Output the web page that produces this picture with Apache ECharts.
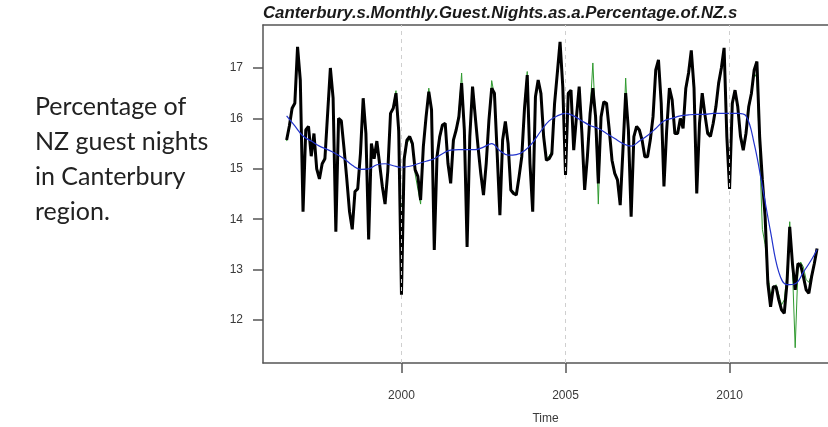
<!DOCTYPE html>
<html>
<head>
<meta charset="utf-8">
<script src="https://cdn.jsdelivr.net/npm/echarts@6/dist/echarts.min.js"></script>
<style>
  html, body { margin: 0; padding: 0; background: #ffffff; }
  #chart { width: 828px; height: 427px; }
</style>
</head>
<body>
<div id="chart"></div>
<script>
// Monthly series start at July 1996 (decimal year 1996.5)
const seriesStart = 1996.5;

// Canterbury share of NZ guest nights (%), monthly, Jul 1996 - Sep 2012
const observed = [
  15.57, 15.85, 16.2, 16.3, 17.42, 16.76,
  14.15, 15.77, 15.84, 15.25, 15.7, 15.0, 14.8, 15.1, 15.2, 16.1, 17.0, 16.4,
  13.75, 16.0, 15.95, 15.4, 14.8, 14.15, 13.8, 14.55, 14.6, 15.3, 16.4, 15.7,
  13.6, 15.5, 15.2, 15.55, 15.1, 14.65, 14.3, 14.95, 16.1, 16.2, 16.5, 15.75,
  12.5, 15.2, 15.57, 15.64, 15.5, 14.98, 14.85, 14.38, 15.44, 16.03, 16.53, 16.17,
  13.39, 15.24, 15.64, 15.87, 15.9, 15.11, 14.71, 15.57, 15.77, 16.03, 16.7, 15.77,
  13.45, 15.64, 16.63, 16.03, 15.44, 14.91, 14.48, 15.11, 15.97, 16.6, 16.5, 15.31,
  14.08, 15.57, 15.94, 15.5, 14.58, 14.51, 14.48, 14.84, 15.24, 16.2, 16.86, 15.11,
  14.15, 16.43, 16.76, 16.5, 15.64, 15.17, 15.2, 15.3, 16.3, 16.9, 17.52, 16.63,
  14.88, 16.5, 16.56, 15.37, 16.03, 16.63, 15.7, 14.58, 15.24, 16.1, 16.6, 16.03,
  14.71, 16.03, 16.33, 16.3, 15.77, 15.17, 14.91, 14.78, 14.28, 15.37, 16.5, 15.77,
  14.05, 15.64, 15.84, 15.77, 15.57, 15.24, 15.24, 15.57, 16.03, 16.96, 17.16, 16.3,
  14.65, 15.77, 16.6, 16.37, 15.7, 15.7, 16.0, 15.8, 16.6, 16.9, 17.35, 16.6,
  14.51, 15.9, 16.5, 16.07, 15.7, 15.64, 15.9, 16.23, 16.7, 17.0, 17.4, 15.64,
  14.6, 16.3, 16.56, 16.23, 15.64, 15.37, 15.7, 16.23, 16.5, 16.96, 17.13, 15.64,
  14.78, 14.05, 12.73, 12.26, 12.66, 12.66, 12.4, 12.2, 12.13, 12.73, 13.85, 13.12,
  12.6, 13.12, 13.09, 12.86, 12.6, 12.53, 12.86, 13.12, 13.42
];

// Companion monthly series (thin green line), same months
const companion = [
  15.55, 15.8, 16.15, 16.3, 17.3, 16.8,
  14.3, 15.75, 15.8, 15.3, 15.65, 15.05, 14.85, 15.1, 15.25, 16.05, 16.95, 16.45,
  13.9, 15.95, 15.9, 15.4, 14.85, 14.2, 13.9, 14.5, 14.65, 15.3, 16.35, 15.75,
  13.75, 15.45, 15.25, 15.5, 15.1, 14.7, 14.35, 14.9, 16.05, 16.25, 16.55, 15.6,
  14.0, 15.1, 15.5, 15.6, 15.45, 14.9, 14.6, 14.3, 15.4, 16.0, 16.6, 16.1,
  13.5, 15.2, 15.6, 15.85, 15.85, 15.15, 14.75, 15.5, 15.8, 16.1, 16.9, 15.7,
  13.6, 15.6, 16.55, 16.05, 15.45, 14.95, 14.5, 15.15, 16.0, 16.75, 16.45, 15.35,
  14.2, 15.5, 15.9, 15.5, 14.6, 14.55, 14.5, 14.8, 15.3, 16.3, 16.93, 15.2,
  14.3, 16.35, 16.7, 16.45, 15.7, 15.2, 15.25, 15.35, 16.25, 16.85, 17.4, 16.6,
  15.0, 16.45, 16.5, 15.45, 16.0, 16.55, 15.75, 14.65, 15.3, 16.15, 17.1, 15.95,
  14.3, 16.0, 16.3, 16.25, 15.8, 15.2, 14.95, 14.8, 14.35, 15.4, 16.8, 15.7,
  14.2, 15.6, 15.8, 15.75, 15.6, 15.3, 15.25, 15.6, 16.05, 16.9, 17.1, 16.25,
  14.8, 15.75, 16.55, 16.3, 15.7, 15.75, 16.0, 15.85, 16.55, 16.85, 17.25, 16.5,
  14.7, 15.85, 16.45, 16.05, 15.75, 15.7, 15.9, 16.2, 16.65, 16.95, 17.3, 15.7,
  14.75, 16.25, 16.5, 16.2, 15.7, 15.45, 15.75, 16.2, 16.45, 16.9, 16.8, 15.3,
  13.8, 13.5, 12.9, 12.5, 12.6, 12.7, 12.5, 12.3, 12.4, 12.9, 13.95, 13.0,
  11.45, 13.0, 13.15, 13.05, 12.8, 12.75, 12.9, 13.15, 13.4
];

// Smoothed trend (blue), sampled quarterly
const trendTimes = [
  1996.5, 1996.75, 1997.0, 1997.25, 1997.5, 1997.75, 1998.0, 1998.25, 1998.5, 1998.75,
  1999.0, 1999.25, 1999.5, 1999.75, 2000.0, 2000.25, 2000.5, 2000.75, 2001.0, 2001.25,
  2001.5, 2001.75, 2002.0, 2002.25, 2002.5, 2002.75, 2003.0, 2003.25, 2003.5, 2003.75,
  2004.0, 2004.25, 2004.5, 2004.75, 2005.0, 2005.25, 2005.5, 2005.75, 2006.0, 2006.25,
  2006.5, 2006.75, 2007.0, 2007.25, 2007.5, 2007.75, 2008.0, 2008.25, 2008.5, 2008.75,
  2009.0, 2009.25, 2009.5, 2009.75, 2010.0, 2010.25, 2010.5, 2010.75, 2011.0, 2011.25,
  2011.5, 2011.75, 2012.0, 2012.25, 2012.5, 2012.667
];
const trendValues = [
  16.05, 15.85, 15.65, 15.55, 15.45, 15.38, 15.3, 15.2, 15.07, 14.99,
  15.0, 15.08, 15.1, 15.06, 15.03, 15.05, 15.1, 15.15, 15.2, 15.3,
  15.37, 15.38, 15.38, 15.38, 15.43, 15.5, 15.36, 15.27, 15.28, 15.36,
  15.52, 15.75, 15.95, 16.05, 16.1, 16.05, 15.95, 15.86, 15.8, 15.7,
  15.6, 15.5, 15.45, 15.55, 15.66, 15.8, 15.95, 16.0, 16.05, 16.07,
  16.08, 16.08, 16.1, 16.1, 16.1, 16.1, 16.05, 15.5, 14.65, 13.75,
  12.95, 12.7, 12.72, 12.95, 13.2, 13.4
];

// Axis ticks
const xTicks = [2000, 2005, 2010];
const yTicks = [12, 13, 14, 15, 16, 17];

const chartTitle = 'Canterbury.s.Monthly.Guest.Nights.as.a.Percentage.of.NZ.s';
const caption = 'Percentage of\nNZ guest nights\nin Canterbury\nregion.';

const monthly = arr => arr.map((v, i) => [seriesStart + i / 12, v]);
const trendData = trendTimes.map((t, i) => [t, trendValues[i]]);

const chart = echarts.init(document.getElementById('chart'), null, { renderer: 'canvas' });

const axisText = { color: '#3a3a3a', fontFamily: 'Liberation Sans, Arial, sans-serif', fontSize: 12 };
const frame = { color: '#555555', width: 1.5 };

chart.setOption({
  backgroundColor: '#ffffff',
  animation: false,
  title: [
    {
      text: chartTitle,
      left: 258, top: 0,
      textStyle: { fontFamily: 'Liberation Sans, Arial, sans-serif', fontSize: 16.8, fontWeight: 'bold', fontStyle: 'italic', color: '#1a1a1a' }
    },
    {
      text: caption,
      left: 30, top: 84,
      textStyle: { fontFamily: 'Lato, sans-serif', fontSize: 25, fontWeight: 'normal', color: '#222222', lineHeight: 35 }
    }
  ],
  grid: { left: 263, top: 25, right: 0, height: 338, outerBoundsMode: 'none', containLabel: false },
  xAxis: [
    {
      type: 'value', position: 'bottom',
      min: 1995.78, max: 2013.0,
      name: 'Time', nameLocation: 'middle', nameGap: 50,
      nameTextStyle: { ...axisText },
      axisLine: { show: true, onZero: false, lineStyle: frame },
      axisTick: { show: true, customValues: xTicks, length: 10, lineStyle: frame },
      axisLabel: { show: true, customValues: xTicks, margin: 27, formatter: v => String(v), ...axisText },
      splitLine: { show: false }
    },
    {
      type: 'value', position: 'top',
      min: 1995.78, max: 2013.0,
      axisLine: { show: true, onZero: false, lineStyle: frame },
      axisTick: { show: false }, axisLabel: { show: false }, splitLine: { show: false }
    }
  ],
  yAxis: {
    type: 'value',
    min: 11.147, max: 17.853,
    axisLine: { show: true, onZero: false, lineStyle: frame },
    axisTick: { show: true, customValues: yTicks, length: 10, lineStyle: frame },
    axisLabel: { show: true, customValues: yTicks, margin: 20, ...axisText },
    splitLine: { show: false }
  },
  series: [
    {
      type: 'line', data: monthly(companion), showSymbol: false, z: 2,
      lineStyle: { color: '#2f9a2f', width: 1 },
      markLine: {
        silent: true, symbol: 'none', label: { show: false },
        lineStyle: { color: '#cfcfcf', type: [4, 4], width: 1 },
        data: xTicks.map(v => ({ xAxis: v }))
      }
    },
    {
      type: 'line', data: monthly(observed), showSymbol: false, z: 3,
      lineStyle: { color: '#000000', width: 3 }
    },
    {
      type: 'line', data: trendData, showSymbol: false, smooth: 0.4, z: 4,
      lineStyle: { color: '#2233cc', width: 1.2 }
    }
  ]
});
</script>
</body>
</html>
